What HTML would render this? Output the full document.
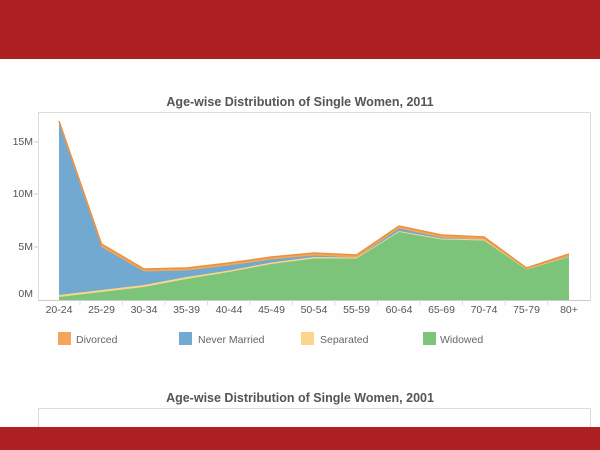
<!DOCTYPE html>
<html><head><meta charset="utf-8"><style>
html,body{margin:0;padding:0;background:#fff;width:600px;height:450px;overflow:hidden}
svg{display:block}
text{font-family:"Liberation Sans",Arial,sans-serif}
</style></head><body>
<svg width="600" height="450" viewBox="0 0 600 450" xmlns="http://www.w3.org/2000/svg">
<rect x="0" y="0" width="600" height="59" fill="#ae2123"/>
<rect x="0" y="59" width="600" height="368" fill="#fefefe"/>
<text x="300" y="106" text-anchor="middle" font-size="12.5" font-weight="bold" fill="#555">Age-wise Distribution of Single Women, 2011</text>
<rect x="38.5" y="112.5" width="552" height="188" fill="none" stroke="#ddd"/>
<g font-size="10.5" fill="#555" text-anchor="end">
<text x="33" y="145">15M</text>
<text x="33" y="197">10M</text>
<text x="33" y="250">5M</text>
<text x="33" y="297">0M</text>
</g>
<g stroke="#ccc"><line x1="34" y1="142" x2="38" y2="142"/><line x1="34" y1="194" x2="38" y2="194"/><line x1="34" y1="247" x2="38" y2="247"/></g>
<polygon fill="#f5a55a" points="59,121 101.5,244 144,269 186.5,268 229,263 271.5,257 314,253 356.5,255 399,226 441.5,235 484,237 526.5,268 569,254 569,300 59,300"/>
<polygon fill="#72a9d0" points="59,124 101.5,247 144,271.5 186.5,270.5 229,265.5 271.5,259.5 314,255.5 356.5,257.5 399,228.5 441.5,237.5 484,239.5 526.5,270 569,256 569,300 59,300"/>
<polygon fill="#fbd68a" points="59,295 101.5,290 144,285 186.5,277 229,270.5 271.5,262.5 314,257 356.5,257.5 399,231 441.5,238.5 484,239.5 526.5,269 569,256.5 569,300 59,300"/>
<polygon fill="#7cc47a" points="59,297 101.5,292 144,287 186.5,279 229,272 271.5,264 314,258.5 356.5,258.5 399,232 441.5,239.5 484,240.5 526.5,269.5 569,257 569,300 59,300"/>
<polyline fill="none" stroke="#e8913f" stroke-width="1.5" points="59,121 101.5,244 144,269 186.5,268 229,263 271.5,257 314,253 356.5,255 399,226 441.5,235 484,237 526.5,268 569,254"/>
<line x1="38" y1="300.5" x2="590" y2="300.5" stroke="#ccc"/>
<g stroke="#ddd">
<line x1="80" y1="300" x2="80" y2="305"/><line x1="122.5" y1="300" x2="122.5" y2="305"/><line x1="165" y1="300" x2="165" y2="305"/><line x1="207.5" y1="300" x2="207.5" y2="305"/><line x1="250" y1="300" x2="250" y2="305"/><line x1="292.5" y1="300" x2="292.5" y2="305"/><line x1="335" y1="300" x2="335" y2="305"/><line x1="377.5" y1="300" x2="377.5" y2="305"/><line x1="420" y1="300" x2="420" y2="305"/><line x1="462.5" y1="300" x2="462.5" y2="305"/><line x1="505" y1="300" x2="505" y2="305"/><line x1="547.5" y1="300" x2="547.5" y2="305"/>
</g>
<g font-size="10.5" fill="#555" text-anchor="middle">
<text x="59" y="313">20-24</text><text x="101.5" y="313">25-29</text><text x="144" y="313">30-34</text><text x="186.5" y="313">35-39</text><text x="229" y="313">40-44</text><text x="271.5" y="313">45-49</text><text x="314" y="313">50-54</text><text x="356.5" y="313">55-59</text><text x="399" y="313">60-64</text><text x="441.5" y="313">65-69</text><text x="484" y="313">70-74</text><text x="526.5" y="313">75-79</text><text x="569" y="313">80+</text>
</g>
<rect x="58" y="332" width="13" height="13" fill="#f5a55a"/>
<rect x="179" y="332" width="13" height="13" fill="#72a9d0"/>
<rect x="301" y="332" width="13" height="13" fill="#fbd68a"/>
<rect x="423" y="332" width="13" height="13" fill="#7cc47a"/>
<g font-size="10.5" fill="#666">
<text x="76" y="343">Divorced</text><text x="198" y="343">Never Married</text><text x="320" y="343">Separated</text><text x="440" y="343">Widowed</text>
</g>
<text x="300" y="402" text-anchor="middle" font-size="12.5" font-weight="bold" fill="#555">Age-wise Distribution of Single Women, 2001</text>
<rect x="38.5" y="408.5" width="552" height="30" fill="none" stroke="#ddd"/>
<rect x="0" y="427" width="600" height="23" fill="#ae2123"/>
</svg>
</body></html>
